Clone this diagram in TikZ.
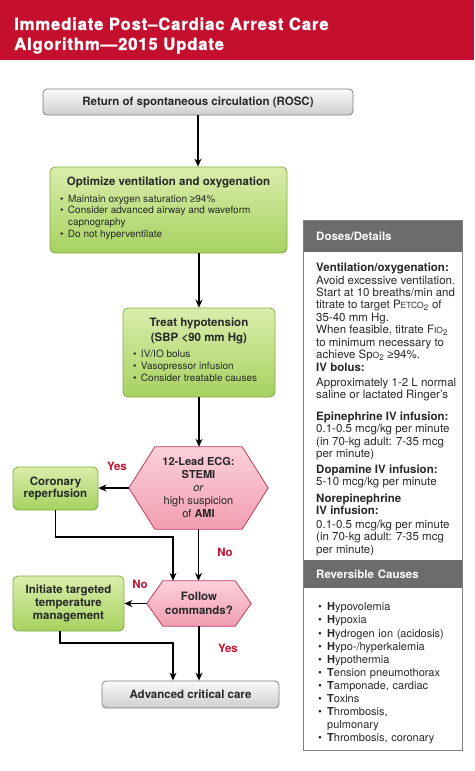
\documentclass[tikz,border=0pt]{standalone}
\usepackage{fontspec}
\setmainfont{TeX Gyre Heros}
\newfontfamily\titlefont[LetterSpace=5, BoldFeatures={FakeBold=1.3}]{TeX Gyre Heros}
\newfontfamily\symfont{Liberation Sans}
\usetikzlibrary{arrows.meta,backgrounds}

\definecolor{ahared}{RGB}{196,16,46}
\definecolor{greentop}{RGB}{218,237,172}
\definecolor{greenbot}{RGB}{166,210,96}
\definecolor{greenline}{RGB}{128,172,68}
\definecolor{pinktop}{RGB}{251,208,218}
\definecolor{pinkbot}{RGB}{241,158,178}
\definecolor{pinkline}{RGB}{196,58,92}
\definecolor{greytop}{RGB}{250,250,250}
\definecolor{greybot}{RGB}{206,206,206}
\definecolor{greyline}{RGB}{128,128,128}
\definecolor{panelgrey}{RGB}{108,108,108}
\definecolor{inktext}{RGB}{40,40,40}

\newcommand{\bul}[2][8pt]{\par\hangindent=#1\hangafter=1\noindent\makebox[#1][l]{\textbullet}#2}
\newcommand{\sml}[1]{{\fontsize{8.5}{8.5}\selectfont #1}}

\tikzset{
  greybox/.style={draw=greyline, line width=0.8pt, rounded corners=4pt, top color=greytop, bottom color=greybot, inner sep=0pt, text=inktext, font=\bfseries\fontsize{11.5}{13}\selectfont},
  greenbox/.style={draw=greenline, line width=0.8pt, rounded corners=5pt, top color=greentop, bottom color=greenbot, inner sep=0pt, align=center, text=inktext, font=\bfseries\fontsize{11.5}{12.8}\selectfont},
  hexbox/.style={inner sep=0pt, align=center, text=inktext, font=\fontsize{11}{13}\selectfont},
  hexpaint/.style={draw=pinkline, line width=0.8pt, top color=pinktop, bottom color=pinkbot},
  arr/.style={-{Stealth[length=8pt,width=7pt]}, line width=1.2pt},
  answer/.style={text=ahared, font=\bfseries\fontsize{11.5}{13}\selectfont},
  panelhead/.style={fill=panelgrey, text=white, anchor=north west, inner sep=0pt, minimum width=159pt, minimum height=32pt, text width=133pt, align=left, font=\bfseries\fontsize{11.5}{13}\selectfont},
  paneltext/.style={anchor=north west, inner sep=0pt, align=left, text=inktext, font=\fontsize{11.5}{12.4}\selectfont},
}

\begin{document}
\begin{tikzpicture}[x=1pt, y=-1pt]
  \useasboundingbox (0,0) rectangle (474,771);

  % title banner
  \fill[ahared] (0,0) rectangle (474,60);
  \node[anchor=north west, inner sep=0pt, align=left, text=white, font=\titlefont\bfseries\fontsize{16.7}{20}\selectfont] (title) at (14,17.3)
    {Immediate Post–Cardiac Arrest Care\\Algorithm—2015 Update};

  % flowchart
  \node[greybox, minimum width=310pt, minimum height=26pt] (rosc) at (198,102) {Return of spontaneous circulation (ROSC)};

  \node[greenbox, minimum width=237pt, minimum height=86pt] (opt) at (168.5,210)
    {\begin{minipage}[c][86pt][t]{217pt}\vspace*{9.5pt}\centering
      Optimize ventilation and oxygenation\par\vspace{5.5pt}
      \raggedright\mdseries\fontsize{10}{11.7}\selectfont
      \bul{Maintain oxygen saturation {\symfont ≥}94\%}
      \bul{Consider advanced airway and waveform\newline capnography}
      \bul{Do not hyperventilate}\par
    \end{minipage}};

  \node[greenbox, minimum width=152pt, minimum height=89pt] (hypo) at (199,352.5)
    {\begin{minipage}[c][89pt][t]{132pt}\vspace*{9.6pt}\centering\fontsize{11.5}{15}\selectfont
      Treat hypotension\\(SBP <90 mm Hg)\par\vspace{4.8pt}
      \raggedright\mdseries\fontsize{10}{11.7}\selectfont
      \bul{IV/IO bolus}
      \bul{Vasopressor infusion}
      \bul{Consider treatable causes}\par
    \end{minipage}};

  \node[hexbox, minimum width=139pt, minimum height=82pt] (ecg) at (198.5,488)
    {\textbf{12-Lead ECG:}\\\textbf{STEMI}\\\textit{or}\\high suspicion\\of \textbf{AMI}};

  \node[greenbox, minimum width=85pt, minimum height=43pt] (repf) at (55.5,488.5) {Coronary\\reperfusion};

  \node[hexbox, font=\bfseries\fontsize{11.5}{14}\selectfont, minimum width=104pt, minimum height=45pt] (follow) at (199,603.5) {Follow\\commands?};

  \node[greenbox, font=\bfseries\fontsize{11.5}{13.4}\selectfont, minimum width=111pt, minimum height=55pt] (ttm) at (68.5,603.5) {Initiate targeted\\temperature\\management};

  \node[greybox, minimum width=177pt, minimum height=27pt] (acc) at (190.5,694.5) {Advanced critical care};

  \begin{scope}[on background layer]
    \draw[hexpaint] (ecg.west) -- ([xshift=26pt]ecg.north west) -- ([xshift=-26pt]ecg.north east) -- (ecg.east)
      -- ([xshift=-26pt]ecg.south east) -- ([xshift=26pt]ecg.south west) -- cycle;
    \draw[hexpaint] (follow.west) -- ([xshift=16pt]follow.north west) -- ([xshift=-16pt]follow.north east) -- (follow.east)
      -- ([xshift=-16pt]follow.south east) -- ([xshift=16pt]follow.south west) -- cycle;
  \end{scope}

  \coordinate (bend1) at (173,537);
  \coordinate (bend2) at (173,643);

  \draw[arr] (rosc.south) -- (rosc.south |- opt.north);
  \draw[arr] (opt.south -| hypo.north) -- (hypo.north);
  \draw[arr] (hypo.south) -- (hypo.south |- ecg.north);
  \draw[arr] (ecg.west) -- (ecg.west -| repf.east);
  \draw[arr] (ecg.south) -- (ecg.south |- follow.north);
  \draw[arr] (repf.south) |- (bend1) -- (bend1 |- follow.north);
  \draw[arr] (follow.west) -- (follow.west -| ttm.east);
  \draw[arr] ([xshift=-8.5pt]ttm.south) |- (bend2) -- (bend2 |- acc.north);
  \draw[arr] (follow.south) -- (follow.south |- acc.north);

  \node[answer] (yes1) at (117,466) {Yes};
  \node[answer] (no1) at (225,552) {No};
  \node[answer] (no2) at (140,584) {No};
  \node[answer] (yes2) at (228,648) {Yes};

  % side panel
  \node[panelhead] (doses) at (303,220) {Doses/Details};
  \node[panelhead, minimum height=28pt] (causes) at (303,560) {Reversible Causes};
  \draw[greyline, line width=0.9pt] (303,220) rectangle (462,750);

  \node[paneltext] (dosetext) at (316,263)
    {\textbf{Ventilation/oxygenation:}\\
     Avoid excessive ventilation.\\
     Start at 10 breaths/min and\\
     titrate to target P\sml{ETCO}\textsubscript{2} of\\
     35-40 mm Hg.\\
     When feasible, titrate F\sml{IO}\textsubscript{2}\\
     to minimum necessary to\\
     achieve Sp\sml{O}\textsubscript{2} {\symfont ≥}94\%.\\[0.6pt]
     \textbf{IV bolus:}\\[2.6pt]
     Approximately 1-2 L normal\\
     saline or lactated Ringer's\\[9pt]
     \textbf{Epinephrine IV infusion:}\\
     0.1-0.5 mcg/kg per minute\\
     (in 70-kg adult: 7-35 mcg\\
     per minute)\\[3.4pt]
     \textbf{Dopamine IV infusion:}\\
     5-10 mcg/kg per minute\\[4.4pt]
     \textbf{Norepinephrine}\\
     \textbf{IV infusion:}\\[1.2pt]
     0.1-0.5 mcg/kg per minute\\
     (in 70-kg adult: 7-35 mcg\\
     per minute)};

  \node[paneltext, text width=140pt, font=\fontsize{11}{13.1}\selectfont] (causetext) at (318,597.5)
    {\raggedright
     \bul[9pt]{\textbf{H}ypovolemia}
     \bul[9pt]{\textbf{H}ypoxia}
     \bul[9pt]{\textbf{H}ydrogen ion (acidosis)}
     \bul[9pt]{\textbf{H}ypo-/hyperkalemia}
     \bul[9pt]{\textbf{H}ypothermia}
     \bul[9pt]{\textbf{T}ension pneumothorax}
     \bul[9pt]{\textbf{T}amponade, cardiac}
     \bul[9pt]{\textbf{T}oxins}
     \bul[9pt]{\textbf{T}hrombosis,\newline pulmonary}
     \bul[9pt]{\textbf{T}hrombosis, coronary}\par};
\end{tikzpicture}
\end{document}
